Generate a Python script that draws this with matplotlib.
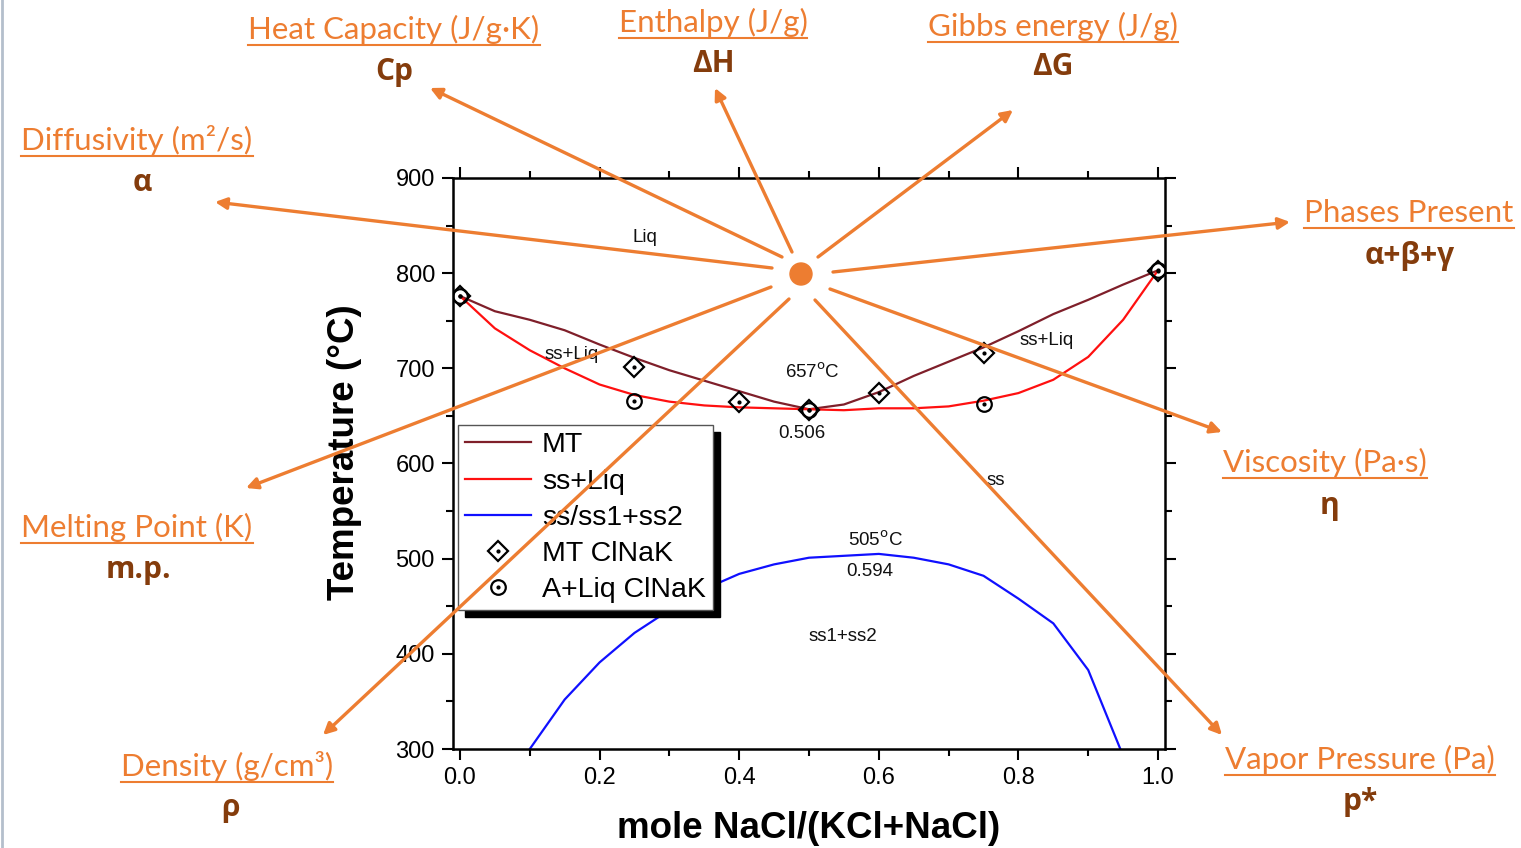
import matplotlib
matplotlib.use("Agg")
import matplotlib.pyplot as plt
from matplotlib.lines import Line2D
from matplotlib.patches import FancyArrowPatch, Ellipse
from matplotlib.ticker import MultipleLocator

# ---- data ----
mt_x = [0.0, 0.05, 0.1, 0.15, 0.2, 0.25, 0.3, 0.35, 0.4, 0.45, 0.5,
        0.55, 0.6, 0.65, 0.7, 0.75, 0.8, 0.85, 0.9, 0.95, 1.0]
mt_t = [776, 760, 751, 740, 725, 711, 698, 687, 676, 665, 657,
        662, 675, 692, 707, 722, 739, 757, 772, 788, 803]

sol_x = [0.0, 0.05, 0.1, 0.15, 0.2, 0.25, 0.3, 0.35, 0.4, 0.45, 0.5,
         0.55, 0.6, 0.65, 0.7, 0.75, 0.8, 0.85, 0.9, 0.95, 1.0]
sol_t = [776, 742, 719, 700, 683, 672, 665, 661, 659, 658, 657,
         656, 658, 658, 660, 666, 674, 688, 712, 751, 803]

gap_x = [0.1, 0.15, 0.2, 0.25, 0.3, 0.35, 0.4, 0.45, 0.5, 0.55, 0.6,
         0.65, 0.7, 0.75, 0.8, 0.85, 0.9, 0.946]
gap_t = [300, 352, 391, 422, 446, 468, 484, 494, 501, 503, 505,
         501, 494, 482, 458, 432, 383, 300]

mt_pts_x = [0.0, 0.25, 0.4, 0.5, 0.6, 0.75, 1.0]
mt_pts_t = [776, 701, 665, 656, 674, 716, 802]

liq_pts_x = [0.0, 0.25, 0.5, 0.75, 1.0]
liq_pts_t = [776, 666, 656, 662, 803]

props = ["Diffusivity (m\u00b2/s)", "Heat Capacity (J/g\u00b7K)", "Enthalpy (J/g)",
         "Gibbs energy (J/g)", "Phases Present", "Viscosity (Pa\u00b7s)",
         "Vapor Pressure (Pa)", "Density (g/cm\u00b3)", "Melting Point (K)"]
symbols = ["\u03b1", "Cp", "\u0394H", "\u0394G", "\u03b1+\u03b2+\u03b3", "\u03b7",
           "p*", "\u03c1", "m.p."]

W, H = 1521, 848
fig = plt.figure(figsize=(W / 100, H / 100), dpi=100)
fig.patch.set_facecolor("white")

def fx(px):
    return px / W

def fy(py):
    return 1 - py / H

ax = fig.add_axes([fx(453), fy(749), fx(1165) - fx(453), fy(178) - fy(749)])
ax.set_xlim(-0.01, 1.01)
ax.set_ylim(300, 900)

ax.plot(mt_x, mt_t, color="#7F1F2A", lw=1.6, label="MT")
ax.plot(sol_x, sol_t, color="#FF1010", lw=1.6, label="ss+Liq")
ax.plot(gap_x, gap_t, color="#1010FF", lw=1.6, label="ss/ss1+ss2")

d1, = ax.plot(mt_pts_x, mt_pts_t, ls="none", marker="D", ms=10.5, mfc="none",
              mec="black", mew=1.6)
d2, = ax.plot(mt_pts_x, mt_pts_t, ls="none", marker=".", ms=4, color="black")
c1, = ax.plot(liq_pts_x, liq_pts_t, ls="none", marker="o", ms=10.5, mfc="none",
              mec="black", mew=1.6)
c2, = ax.plot(liq_pts_x, liq_pts_t, ls="none", marker=".", ms=4, color="black")

afont = dict(family="Liberation Sans", fontsize=13.5, color="#111111")
ax.text(0.265, 837, "Liq", ha="center", va="center", **afont)
ax.text(0.16, 715, "ss+Liq", ha="center", va="center", **afont)
ax.text(0.84, 729, "ss+Liq", ha="center", va="center", **afont)
ax.text(0.505, 696, "657$^{\\rm o}$C", ha="center", va="center", **afont)
ax.text(0.49, 631, "0.506", ha="center", va="center", **afont)
ax.text(0.768, 582, "ss", ha="center", va="center", **afont)
ax.text(0.595, 519, "505$^{\\rm o}$C", ha="center", va="center", **afont)
ax.text(0.587, 486, "0.594", ha="center", va="center", **afont)
ax.text(0.549, 418, "ss1+ss2", ha="center", va="center", **afont)

handles = ax.get_lines()[:3] + [(d1, d2), (c1, c2)]
labels = ["MT", "ss+Liq", "ss/ss1+ss2", "MT ClNaK", "A+Liq ClNaK"]
leg = ax.legend(handles, labels, loc="upper left", bbox_to_anchor=(0.007, 0.567),
                borderaxespad=0, fancybox=False, framealpha=1, edgecolor="#555555",
                prop={"family": "Liberation Sans", "size": 20.5}, handlelength=2.3,
                handletextpad=0.4, labelspacing=0.36, borderpad=0.25,
                shadow={"color": "black", "alpha": 1, "ox": 5, "oy": -5})
leg.get_frame().set_linewidth(1.0)

ax.xaxis.set_major_locator(MultipleLocator(0.2))
ax.xaxis.set_minor_locator(MultipleLocator(0.1))
ax.yaxis.set_major_locator(MultipleLocator(100))
ax.yaxis.set_minor_locator(MultipleLocator(50))
ax.tick_params(which="both", direction="out", top=True, right=True, width=1.5,
               labelsize=17, pad=5)
ax.tick_params(which="major", length=8)
ax.tick_params(which="minor", length=5)
for lab in ax.get_xticklabels() + ax.get_yticklabels():
    lab.set_family("Liberation Sans")
for s in ax.spines.values():
    s.set_linewidth(1.8)

ax.set_xlabel("mole NaCl/(KCl+NaCl)", family="Liberation Sans", fontsize=26.5,
              fontweight="bold")
ax.set_ylabel("Temperature (\u00b0C)", family="Liberation Sans", fontsize=26.5,
              fontweight="bold")
ax.xaxis.set_label_coords(0.5, -0.108)
ax.yaxis.set_label_coords(-0.128, 0.52)

# ---- orange star with arrows to the property labels ----
orange = "#ED7D31"
brown = "#843C0C"
cx, cy = 801, 274
starts = [(772, 268), (782, 257), (792, 252), (818, 257), (833, 272),
          (830, 289), (815, 300), (789, 299), (771, 287)]
tips = [(215, 202), (430, 88), (715, 88), (1013, 110), (1290, 222),
        (1222, 432), (1222, 735), (323, 735), (246, 488)]
label_pos = [(137, 140), (394, 29), (713, 22), (1053, 26), (1409, 213),
             (1325, 462), (1360, 759), (227, 766), (137, 527)]
sym_pos = [(142, 183), (394, 72), (713, 64), (1053, 67), (1410, 256),
           (1330, 506), (1360, 802), (230, 808), (138, 570)]

fig.add_artist(Ellipse((fx(cx), fy(cy)), width=22 / W, height=22 / H,
                       transform=fig.transFigure, color=orange, zorder=20))
for (sx, sy), (tx, ty) in zip(starts, tips):
    fig.add_artist(FancyArrowPatch((fx(sx), fy(sy)), (fx(tx), fy(ty)),
                                   transform=fig.transFigure, arrowstyle="-|>",
                                   mutation_scale=17, lw=2.4, color=orange,
                                   shrinkA=0, shrinkB=0, zorder=20))

ltexts = []
for name, (px, py) in zip(props, label_pos):
    t = fig.text(fx(px), fy(py), name, ha="center", va="center", color=orange,
                 fontsize=22.5, family=["Lato", "DejaVu Sans"], zorder=21)
    ltexts.append(t)
for sym, (px, py) in zip(symbols, sym_pos):
    fig.text(fx(px), fy(py), sym, ha="center", va="center", color=brown,
             fontsize=21.5, fontweight="bold", family=["Open Sans", "DejaVu Sans"],
             zorder=21)

fig.add_artist(Line2D([0.001, 0.001], [0, 1], transform=fig.transFigure,
                      color="#B4BFCC", lw=2))

fig.canvas.draw()
rend = fig.canvas.get_renderer()
for t in ltexts:
    bb = t.get_window_extent(rend)
    yline = (bb.y0 - 1) / H
    fig.add_artist(Line2D([bb.x0 / W, bb.x1 / W], [yline, yline],
                          transform=fig.transFigure, color=orange, lw=1.5))

fig.savefig("out.png", dpi=100, facecolor="white")
